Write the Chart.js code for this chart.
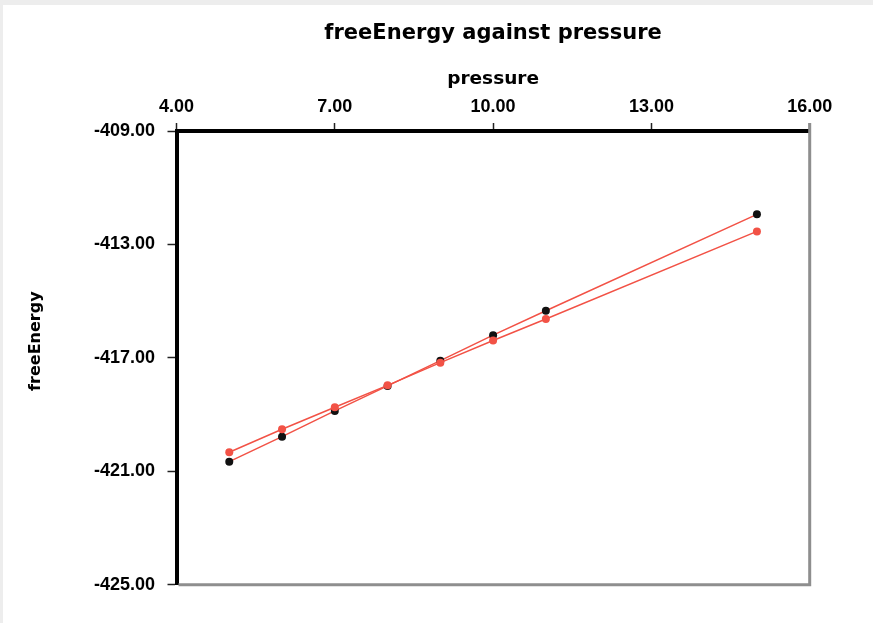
<!DOCTYPE html>
<html>
<head>
<meta charset="utf-8">
<title>freeEnergy against pressure</title>
<script src="https://cdn.jsdelivr.net/npm/chart.js@4.4.1/dist/chart.umd.min.js"></script>
<style>
    html, body { margin: 0; padding: 0; background: #ededed; }
    #painel { position: absolute; left: 3px; top: 5px; width: 870px; height: 618px; background: #fff; }
</style>
</head>
<body>
<div id="painel"><canvas id="grafico" width="870" height="618"></canvas></div>
<script>
// valores
var pressure = [5, 6, 7, 8, 9, 10, 11, 15];
var freeEnergyBlack = [-420.66, -419.78, -418.87, -417.99, -417.10, -416.20, -415.34, -411.94];
var freeEnergyRed = [-420.33, -419.52, -418.74, -417.97, -417.17, -416.39, -415.63, -412.54];
var pressureTicks = [4, 7, 10, 13, 16];
var freeEnergyTicks = [-425, -421, -417, -413, -409];

var Grafico = Grafico || {};

Grafico.FreeEnergy = (function(){

    var vermelho = 'rgb(242, 82, 70)';
    var preto = '#111';
    var fonteTitulo = 'DejaVu Sans';
    var fonteTicks = 'Liberation Sans';

    function FreeEnergy(){
        this.ctx = document.getElementById('grafico').getContext('2d');
    }

    function pontos(ys){
        return pressure.map(function(x, i){
            return {x: x, y: ys[i]};
        });
    }

    function fixarTicks(valores){
        return function(scale){
            scale.ticks = valores.map(function(v){ return {value: v}; });
        };
    }

    function duasCasas(v){
        return Number(v).toFixed(2);
    }

    // linhas cinzas da direita e de baixo
    var moldura = {
        id: 'moldura',
        afterDraw: function(chart){
            var a = chart.chartArea;
            var ctx = chart.ctx;
            ctx.save();
            ctx.strokeStyle = '#8e8e8e';
            ctx.lineWidth = 3;
            ctx.beginPath();
            ctx.moveTo(a.left + 2, a.bottom);
            ctx.lineTo(a.right, a.bottom);
            ctx.moveTo(a.right, a.top - 8);
            ctx.lineTo(a.right, a.bottom + 1.5);
            ctx.stroke();
            ctx.restore();
        }
    };

    FreeEnergy.prototype.iniciar = function(){
        new Chart(this.ctx, {
            type: 'scatter',
            data: {
                datasets: [{
                    label: 'freeEnergy (red)',
                    data: pontos(freeEnergyRed),
                    xAxisID: 'x',
                    yAxisID: 'y',
                    showLine: true,
                    borderColor: vermelho,
                    borderWidth: 1.5,
                    pointBackgroundColor: vermelho,
                    pointBorderWidth: 0,
                    pointRadius: 4
                }, {
                    label: 'freeEnergy (black)',
                    data: pontos(freeEnergyBlack),
                    xAxisID: 'x',
                    yAxisID: 'y',
                    showLine: true,
                    borderColor: vermelho,
                    borderWidth: 1.5,
                    pointBackgroundColor: preto,
                    pointBorderWidth: 0,
                    pointRadius: 4
                }]
            },
            options: {
                responsive: false,
                animation: false,
                layout: { padding: { left: 0, top: 0, right: 63.3, bottom: 38.3 } },
                plugins: {
                    legend: { display: false },
                    tooltip: { enabled: false },
                    title: { display: false }
                },
                scales: {
                    x: {
                        type: 'linear',
                        position: 'top',
                        weight: 1,
                        min: 4,
                        max: 16,
                        afterBuildTicks: fixarTicks(pressureTicks),
                        afterFit: function(scale){ scale.height = 85.1; },
                        title: {
                            display: true,
                            text: 'pressure',
                            color: '#000',
                            font: { family: fonteTitulo, size: 18.5, weight: 'bold', lineHeight: 1.2 },
                            padding: { top: 22.1, bottom: 0 }
                        },
                        ticks: {
                            color: '#000',
                            padding: 5.5,
                            maxRotation: 0,
                            font: { family: fonteTicks, size: 18, weight: 'bold', lineHeight: 1.2 },
                            callback: duasCasas
                        },
                        grid: {
                            drawOnChartArea: false,
                            drawTicks: true,
                            tickLength: 8,
                            tickColor: '#222',
                            tickWidth: 1.5
                        },
                        border: { display: true, color: '#000', width: 4 }
                    },
                    y: {
                        type: 'linear',
                        position: 'left',
                        min: -425,
                        max: -409,
                        afterBuildTicks: fixarTicks(freeEnergyTicks),
                        afterFit: function(scale){ scale.width = 173.5; },
                        title: {
                            display: true,
                            text: '      freeEnergy',
                            color: '#000',
                            font: { family: fonteTitulo, size: 16, weight: 'bold', lineHeight: 1.2 },
                            padding: { top: 23.5, bottom: 0 }
                        },
                        ticks: {
                            color: '#000',
                            padding: 12.5,
                            font: { family: fonteTicks, size: 18, weight: 'bold', lineHeight: 1.2 },
                            callback: duasCasas
                        },
                        grid: {
                            drawOnChartArea: false,
                            drawTicks: true,
                            tickLength: 9,
                            tickColor: '#222',
                            tickWidth: 1.5
                        },
                        border: { display: true, color: '#000', width: 4 }
                    },
                    // eixo vazio so para centralizar o titulo sobre a area do grafico
                    titulo: {
                        type: 'linear',
                        position: 'top',
                        weight: 10,
                        afterFit: function(scale){ scale.height = 40.9; },
                        ticks: { display: false },
                        grid: { display: false, drawTicks: false },
                        border: { display: false },
                        title: {
                            display: true,
                            text: 'freeEnergy against pressure',
                            color: '#000',
                            font: { family: fonteTitulo, size: 21, weight: 'bold', lineHeight: 1.2 },
                            padding: { top: 15.7, bottom: 0 }
                        }
                    }
                }
            },
            plugins: [moldura]
        });
    };

    return FreeEnergy;
}());

var grafico = new Grafico.FreeEnergy();
grafico.iniciar();
</script>
</body>
</html>
